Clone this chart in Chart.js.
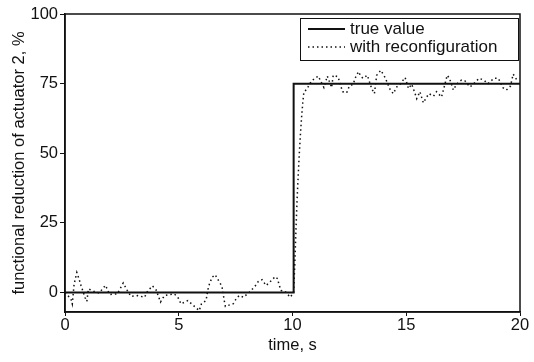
<!DOCTYPE html>
<html>
<head>
<meta charset="utf-8">
<script src="https://cdn.jsdelivr.net/npm/chart.js@4"></script>
<style>
  body { margin: 0; background: #fff; }
  #wrap { width: 534px; height: 362px; }
</style>
</head>
<body>
<div id="wrap"><canvas id="chart"></canvas></div>
<script>
// true value: step from 0 to 75 at t = 10
const trueTimes = [0, 10.05, 10.05, 20];
const trueValues = [0, 0, 75, 75];

// with reconfiguration
const reconTimes = [0, 0.26, 0.32, 0.4, 0.52, 0.62, 0.7, 0.88, 0.96, 1.03, 1.25, 1.5, 1.78, 1.96, 2.3, 2.56, 2.74, 2.9, 3.2, 3.5, 3.6, 3.84, 4.0, 4.2, 4.37, 4.8, 4.96, 5.1, 5.4, 5.9, 6.0, 6.2, 6.28, 6.35, 6.47, 6.6, 6.75, 6.9, 7.0, 7.05, 7.4, 7.5, 7.65, 7.85, 8.1, 8.35, 8.5, 8.66, 8.84, 9.0, 9.24, 9.35, 9.4, 9.5, 9.66, 9.9, 10.05,
  10.1, 10.15, 10.2, 10.25, 10.3, 10.35, 10.4, 10.45, 10.5, 10.62, 10.84, 11.13, 11.38, 11.53, 11.72, 11.79, 12.0, 12.1, 12.2, 12.38, 12.5, 12.67, 12.75, 12.9, 13.0, 13.1, 13.29, 13.48, 13.6, 13.7, 13.88, 14.07, 14.29, 14.43, 14.58, 14.73, 14.95, 15.1, 15.24, 15.39, 15.46, 15.6, 15.75, 15.9, 16.0, 16.2, 16.33, 16.55, 16.7, 16.8, 16.9, 17.07, 17.21, 17.43, 17.58, 17.8, 17.95, 18.2, 18.4, 18.6, 18.85, 19.05, 19.24, 19.4, 19.58, 19.7, 19.85, 19.97];
const reconValues = [0, -2.3, -4.1, 3, 7.2, 4.8, 2.6, -1.8, -3.2, 1.3, 0.5, -0.2, 2.6, -0.7, -0.5, 3.4, 0.7, -1.4, -1.1, -1.7, 0.1, 2.4, 1, -3.4, -1.1, -0.5, -1.7, -4.1, -2.9, -6.5, -4, -2.9, 1, 3.1, 5.5, 6.4, 4.3, 2.2, -2.9, -5, -4, -2.6, -1.1, -1.7, 0.1, 2.2, 4, 4.6, 2.5, 3.7, 5.7, 4.9, 3, 0.7, 0.5, -1.7, 0,
  10, 22, 33, 42, 50, 57, 63, 68, 72, 72.9, 76, 77.7, 73.6, 77.7, 73.6, 78, 77.5, 74.8, 72.1, 71.7, 74.1, 74.8, 76.9, 79.3, 77.7, 76.9, 78, 73.2, 71.4, 78, 79.8, 77.2, 72.9, 71.4, 73.8, 74.8, 77.2, 73.2, 74.8, 71.4, 69.6, 72.1, 68.1, 70.2, 71.4, 70.5, 72.1, 70.2, 74.8, 78, 76.9, 72.7, 74.8, 76.3, 76, 73.8, 74.8, 76.9, 76.3, 75, 76.9, 76.9, 73.6, 72.7, 74.1, 78.4, 76.5, 76.9];

const yTicks = [0, 25, 50, 75, 100];
const xTicks = [0, 5, 10, 15, 20];

const ink = '#111';
const font = { family: "'Liberation Sans', Arial, sans-serif", size: 16.5 };

function toPoints(xs, ys) {
    return xs.map((x, i) => ({ x: x, y: ys[i] }));
}

// frame around plot and legend box inside
const framePlugin = {
    id: 'frame',
    afterDraw(chart) {
        const ctx = chart.ctx;
        const a = chart.chartArea;
        ctx.save();
        ctx.strokeStyle = ink;
        ctx.lineWidth = 1.5;
        ctx.strokeRect(a.left, a.top, a.right - a.left, a.bottom - a.top);

        // legend
        const bx = 300, by = 18, bw = 218, bh = 42;
        ctx.lineWidth = 1;
        ctx.strokeRect(bx + 0.5, by + 0.5, bw, bh);
        ctx.font = "17px 'Liberation Sans', Arial, sans-serif";
        ctx.fillStyle = ink;
        ctx.textBaseline = 'middle';
        const ds = chart.data.datasets;
        [29, 47].forEach((ly, i) => {
            ctx.beginPath();
            ctx.lineWidth = ds[i].borderWidth;
            ctx.setLineDash(ds[i].borderDash || []);
            ctx.moveTo(308, ly);
            ctx.lineTo(345, ly);
            ctx.stroke();
            ctx.setLineDash([]);
            ctx.fillText(ds[i].label, 350, ly);
        });
        ctx.restore();
    }
};

new Chart(document.getElementById('chart'), {
    type: 'line',
    data: {
        datasets: [
            {
                label: 'true value',
                data: toPoints(trueTimes, trueValues),
                borderColor: ink,
                borderWidth: 2,
                pointRadius: 0,
                tension: 0
            },
            {
                label: 'with reconfiguration',
                data: toPoints(reconTimes, reconValues),
                borderColor: ink,
                borderWidth: 1.5,
                borderDash: [1.5, 3],
                pointRadius: 0,
                tension: 0
            }
        ]
    },
    options: {
        responsive: true,
        maintainAspectRatio: false,
        animation: false,
        layout: { padding: { top: 14, right: 14, left: 10, bottom: 7 } },
        plugins: {
            legend: { display: false },
            tooltip: { enabled: false }
        },
        scales: {
            x: {
                type: 'linear',
                min: 0,
                max: 20,
                afterBuildTicks: s => { s.ticks = xTicks.map(v => ({ value: v })); },
                afterFit: s => { s.height = 43; },
                grid: { drawOnChartArea: false, tickLength: 4, color: ink, lineWidth: 1 },
                border: { color: ink, width: 1.5 },
                ticks: { color: ink, font: font, padding: 0, maxRotation: 0 },
                title: { display: true, text: 'time, s', color: ink, font: font, padding: { top: 0, bottom: 0 } }
            },
            y: {
                min: -7,
                max: 100,
                afterBuildTicks: s => { s.ticks = yTicks.map(v => ({ value: v })); },
                afterFit: s => { s.width = 55; },
                grid: { drawOnChartArea: false, tickLength: 5, color: ink, lineWidth: 1 },
                border: { color: ink, width: 1.5 },
                ticks: { color: ink, font: font, padding: 2 },
                title: { display: true, text: 'functional reduction of actuator 2, %', color: ink, font: font, padding: { top: 0, bottom: 4 } }
            }
        }
    },
    plugins: [framePlugin]
});
</script>
</body>
</html>
